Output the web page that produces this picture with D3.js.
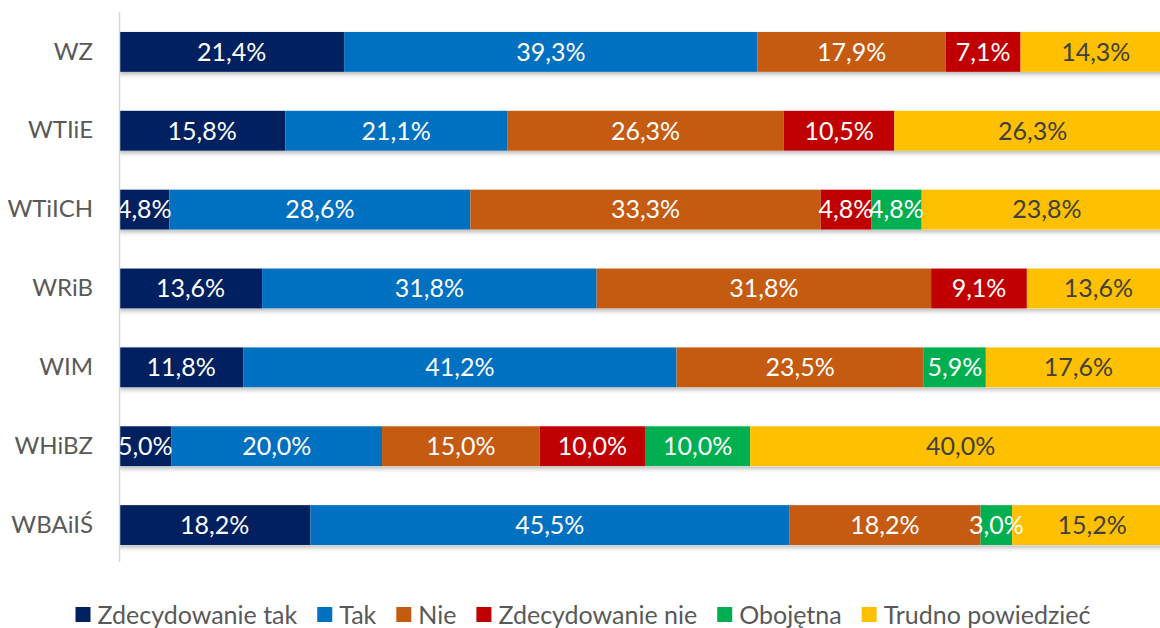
<!DOCTYPE html>
<html><head><meta charset="utf-8">
<script src="https://cdn.jsdelivr.net/npm/d3@7"></script>
<style>
html,body{margin:0;padding:0;background:#fff;}
svg{display:block;font-family:Lato, "Open Sans", sans-serif;}
</style></head>
<body>
<svg id="chart" width="1160" height="628"></svg>
<script>
const categories = ["WZ","WTIiE","WTiICH","WRiB","WIM","WHiBZ","WBAiIŚ"];
const seriesNames = ["Zdecydowanie tak","Tak","Nie","Zdecydowanie nie","Obojętna","Trudno powiedzieć"];
const zdecydowanieTak = [21.4,15.8,4.8,13.6,11.8,5.0,18.2];
const tak             = [39.3,21.1,28.6,31.8,41.2,20.0,45.5];
const nie             = [17.9,26.3,33.3,31.8,23.5,15.0,18.2];
const zdecydowanieNie = [7.1,10.5,4.8,9.1,0,10.0,0];
const obojetna        = [0,0,4.8,0,5.9,10.0,3.0];
const trudno          = [14.3,26.3,23.8,13.6,17.6,40.0,15.2];
const seriesValues = [zdecydowanieTak,tak,nie,zdecydowanieNie,obojetna,trudno];
const colors = ["#002060","#0070C0","#C55A11","#C00000","#00B050","#FFC000"];
const labelColors = ["#ffffff","#ffffff","#ffffff","#ffffff","#ffffff","#404040"];

const svg = d3.select("#chart");
const x = d3.scaleLinear().domain([0,100]).range([119,1171]);
const y = d3.scaleBand().domain(categories).range([12,565]).paddingInner(0.494).paddingOuter(0.253);

const defs = svg.append("defs");
const f = defs.append("filter").attr("id","sh").attr("x","-5%").attr("y","-30%").attr("width","110%").attr("height","180%");
f.append("feDropShadow").attr("dx",0).attr("dy",2.5).attr("stdDeviation",2).attr("flood-color","#000").attr("flood-opacity",0.28);
defs.append("clipPath").attr("id","plotclip").append("rect").attr("x",119).attr("y",0).attr("width",1100).attr("height",600);

const rows = categories.map((c,i)=>{const o={cat:c}; seriesNames.forEach((s,j)=>o[s]=seriesValues[j][i]); return o;});
const stacked = d3.stack().keys(seriesNames)(rows);

const plot = svg.append("g").attr("clip-path","url(#plotclip)");
plot.append("g").selectAll("rect").data(rows).join("rect")
  .attr("x",x(0)).attr("width",x(100)-x(0))
  .attr("y",d=>y(d.cat)).attr("height",y.bandwidth())
  .attr("fill","#fff").attr("filter","url(#sh)");

stacked.forEach((layer,j)=>{
  plot.append("g").selectAll("rect").data(layer.filter(d=>d[1]-d[0]>0)).join("rect")
    .attr("x",d=>x(d[0])).attr("width",d=>x(d[1])-x(d[0]))
    .attr("y",d=>y(d.data.cat)).attr("height",y.bandwidth())
    .attr("fill",colors[j]);
});
stacked.forEach((layer,j)=>{
  plot.append("g").selectAll("text").data(layer.filter(d=>d[1]-d[0]>0)).join("text")
    .attr("x",d=>(x(d[0])+x(d[1]))/2)
    .attr("y",d=>y(d.data.cat)+y.bandwidth()/2)
    .attr("dy","0.35em")
    .attr("text-anchor","middle")
    .attr("font-size",25)
    .attr("fill",labelColors[j])
    .text(d=>(d[1]-d[0]).toFixed(1).replace(".",",")+"%");
});

const yAxis = d3.axisLeft(y).tickSize(0).tickPadding(26);
const ag = svg.append("g").attr("transform","translate(119,0)").call(yAxis);
ag.select(".domain").remove();
ag.selectAll("text").attr("font-size",24).attr("fill","#595959").attr("font-family","Lato, 'Open Sans', sans-serif");
svg.append("line").attr("x1",119.5).attr("x2",119.5).attr("y1",12).attr("y2",562).attr("stroke","#d9d9d9").attr("stroke-width",1.5);

const lg = svg.append("g");
const items = lg.selectAll("g").data(seriesNames).join("g");
items.append("rect").attr("width",15).attr("height",15).attr("y",-8).attr("fill",(d,i)=>colors[i]);
items.append("text").attr("x",22).attr("dy","0.35em").attr("font-size",25).attr("fill","#595959").text(d=>d);
const gap = 20;
const widths = [];
items.each(function(){ widths.push(22 + this.querySelector("text").getComputedTextLength()); });
const total = d3.sum(widths) + gap*(widths.length-1);
let cx = 583 - total/2;
items.attr("transform",(d,i)=>{const t=`translate(${cx},615)`; cx += widths[i]+gap; return t;});
</script>
</body></html>
